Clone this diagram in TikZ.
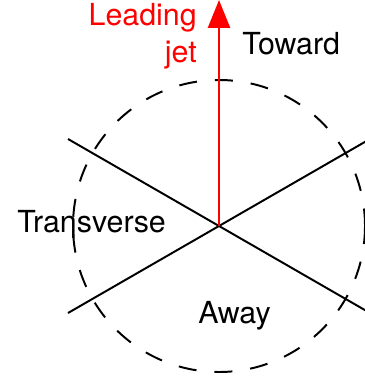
\documentclass[tikz,border=0pt]{standalone}
\usepackage{fontspec}
\setmainfont{TeX Gyre Heros}
\usetikzlibrary{arrows.meta}
\begin{document}
\begin{tikzpicture}[x=0.025cm, y=-0.025cm, font=\fontsize{21.6}{26.3}\selectfont]

\useasboundingbox (0,0) rectangle (365,380);

\coordinate (o)  at (219,226);
\coordinate (ul) at (68,139);
\coordinate (ll) at (68,313);
\coordinate (ur) at (370,139);
\coordinate (lr) at (370,313);
\coordinate (tip) at (219,0);

\begin{scope}[line width=1.4pt]
\draw (ul) -- (lr);
\draw (ll) -- (ur);
\draw [dash pattern=on 12.8pt off 12.8pt] (o) circle (146);
\end{scope}

\draw [red, line width=2pt, -{Triangle[length=19.9pt, width=15.6pt]}] (o) -- (tip);

\node (lead) [red, align=right, anchor=north east, inner sep=0pt] at (197,3) {Leading\\jet};
\node (toward) [anchor=base west, inner sep=0pt] at (242,55) {Toward};
\node (trans) [anchor=base west, inner sep=0pt] at (17,232) {Traηsverse};
\node (away) [anchor=base west, inner sep=0pt] at (198,323) {Away};

\end{tikzpicture}
\end{document}
